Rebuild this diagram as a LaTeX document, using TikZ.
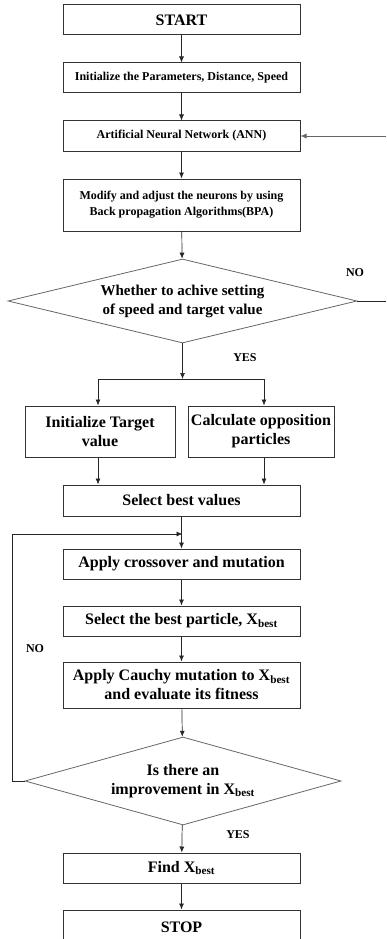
\documentclass[tikz,border=0pt]{standalone}
\usepackage{fontspec}
\setmainfont{Liberation Serif}
\usetikzlibrary{shapes.geometric,arrows.meta}

\begin{document}
\begin{tikzpicture}[x=1pt,y=-1pt,
    box/.style={draw=black!80,line width=1pt,minimum width=237pt,inner sep=2pt,align=center,font=\fontsize{16}{19}\selectfont\bfseries},
    smallbox/.style={box,font=\fontsize{12}{16}\selectfont\bfseries},
    decision/.style={diamond,draw=black!60,line width=0.8pt,inner sep=0pt,align=center,font=\fontsize{15}{19}\selectfont\bfseries},
    lbl/.style={font=\fontsize{12}{14}\selectfont\bfseries},
    arr/.style={-{Latex[length=6pt,width=5pt]},line width=0.7pt,draw=black!85}]
    \clip (0,0) rectangle (386,939);

    \node[box,minimum height=30pt] (start) at (181.5,20) {START};
    \node[smallbox,minimum height=30pt] (init) at (181.5,78) {Initialize the Parameters,\ Distance, Speed};
    \node[smallbox,minimum height=30pt] (ann) at (181.5,136) {Artificial Neural Network (ANN)};
    \node[smallbox,minimum height=52pt] (bpa) at (181.5,205) {Modify and adjust the neurons by using\\Back propagation Algorithms(BPA)};
    \node[decision,minimum width=349pt,minimum height=84pt,shape aspect=4.15] (dec1) at (182.5,301) {Whether to achive setting\\of speed and target value};
    \node[box,minimum width=150pt,minimum height=51pt] (tv) at (100,431.5) {Initialize Target\\value};
    \node[box,minimum width=146pt,minimum height=51pt] (opp) at (261,431.5) {Calculate opposition\\particles};
    \node[box,minimum height=31pt] (best) at (181.5,500.5) {Select best values};
    \node[box,minimum height=30pt] (cross) at (181.5,564) {Apply crossover and mutation};
    \node[box,minimum height=30pt] (part) at (181.5,621) {Select the best particle, X\textsubscript{best}};
    \node[box,minimum height=46pt] (cauchy) at (181.5,685) {Apply Cauchy mutation to X\textsubscript{best}\\and evaluate its fitness};
    \node[decision,minimum width=316pt,minimum height=88pt,shape aspect=3.6,font=\fontsize{16}{19}\selectfont\bfseries] (dec2) at (183,781) {Is there an\\improvement in X\textsubscript{best}};
    \node[box,minimum height=30pt] (find) at (181.5,868) {Find X\textsubscript{best}};
    \node[box,minimum height=34pt] (stop) at (181.5,927) {STOP};

    \node[lbl] (no1) at (355,273) {NO};
    \node[lbl] (yes1) at (245,358) {YES};
    \node[lbl] (no2) at (35,649) {NO};
    \node[lbl] (yes2) at (238,835) {YES};

    \coordinate (annin) at (386,136);
    \coordinate (noout) at (386,301);
    \coordinate (split) at (182.5,379);
    \coordinate (sl) at (98,379);
    \coordinate (sr) at (264,379);
    \coordinate (lp) at (12,781);
    \coordinate (join) at (182.5,534);

    \draw[arr] (start) -- (init);
    \draw[arr] (init) -- (ann);
    \draw[arr] (ann) -- (bpa);
    \draw[arr] (bpa) -- (dec1);
    \draw[arr,draw=black!60] (annin) -- (ann.east);
    \draw[line width=0.7pt,black!85] (dec1.east) -- (noout);
    \draw[arr] (dec1.south) -- (split);
    \draw[line width=0.7pt,black!85] (sl) -- (sr);
    \draw[arr] (sl) -- (sl |- tv.north);
    \draw[arr] (sr) -- (sr |- opp.north);
    \draw[arr] (sl |- tv.south) -- (sl |- best.north);
    \draw[arr] (sr |- opp.south) -- (sr |- best.north);
    \draw[arr] (best) -- (cross);
    \draw[arr] (dec2.west) -- (lp) |- (join);
    \draw[arr] (cross) -- (part);
    \draw[arr] (part) -- (cauchy);
    \draw[arr] (cauchy) -- (dec2);
    \draw[arr] (dec2) -- (find);
    \draw[arr] (find) -- (stop);
\end{tikzpicture}
\end{document}
